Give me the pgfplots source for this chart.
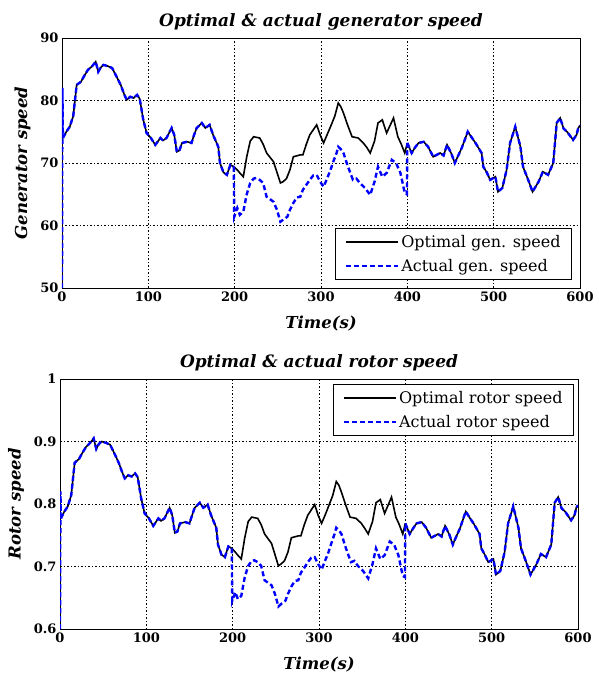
\documentclass[border=0pt]{standalone}
\usepackage{fontspec}
\setmainfont{DejaVu Serif}
\usepackage{pgfplots}
\usepackage{pgfplotstable}
\pgfplotsset{compat=1.18}

% generator speed, shared part (optimal = actual) 0..199 s
\pgfplotstableread{
t v
1 74
5 75
9 75.8
13 77.5
17 82.5
22 83
26 84
30 84.9
35 85.5
39 86.2
42 84.6
45 85.3
48 85.7
53 85.5
58 85.2
64 83.6
68 82.5
72 81
75 80.1
79 80.6
83 80.4
87 80.9
90 80.3
94 77
98 74.8
103 74
108 72.9
114 74
117 73.6
121 74
127 75.6
130 74.5
133 71.8
136 72
139 73.2
145 73.4
150 73.2
153 74.5
156 75.6
162 76.4
166 75.6
171 76.1
175 74.5
181 72.6
183 70
187 68.5
191 68.1
195 69.7
199 69.4
}\genA
% optimal generator speed 199..400 s
\pgfplotstableread{
t v
199 69.4
203 68.9
206 68.4
210 67.8
214 71
218 73.5
222 74.2
229 74
233 73
237 71.6
245 70.2
249 68.5
253 66.8
256 67
260 67.5
264 68.9
268 71
276 71.3
279 71.3
283 73
287 74.5
295 76.1
299 74.5
303 73.2
307 74.5
311 75.8
316 77.5
320 79.6
323 79
326 78
331 76
336 74.2
343 74
349 73.2
353 72.5
357 71.6
362 73.5
366 76.4
371 76.9
376 74.8
380 76
384 77.2
389 74.2
393 73
397 71.6
400 73.2
}\genOpt
% actual generator speed 199..400 s
\pgfplotstableread{
t v
199 69.4
199.5 61.4
203 62.8
206 61.7
210 62.2
214 65
218 66.8
222 67.5
225 67.6
229 67.3
233 66.8
237 64.6
241 64.2
245 63.8
249 62.5
253 60.6
257 61
261 61.4
264 62.5
268 63.6
272 64.5
276 64.6
279 65.7
283 66.5
287 67.3
291 68
295 68.1
299 67
303 66.2
307 67.5
311 68.9
315 70.5
318 71.6
320 72.6
323 72.2
326 71.6
331 69.5
337 67.3
341 67.5
345 66.8
351 66
357 64.9
362 67
366 69.4
371 67.8
376 68.4
382 70.5
387 70
392 68.4
397 65.2
399.5 65
400 73.2
}\genAct
% generator speed, shared part 400..600 s
\pgfplotstableread{
t v
400 73.2
405 71.6
409 72.5
413 73.2
419 73.4
424 72.6
430 71
434 71.3
438 71.6
442 71.2
446 72.9
451 71.5
455 70
459 71.2
463 72.4
470 75
475 74
479 73.2
486 71.6
488 69.4
492 68.5
496 67.3
502 67.8
505 65.4
510 66
515 68.9
519 73.2
525 75.8
531 72.6
534 69.4
540 67.3
545 65.4
552 67
557 68.6
563 68.1
569 70
573 76.4
577 77.2
581 75.5
585 75
592 73.7
596 74.5
598 75.6
600 76
}\genB

% rotor speed, shared part 0..199 s
\pgfplotstableread{
t v
1 0.777
5 0.788
9 0.796
13 0.814
17 0.866
22 0.872
26 0.882
30 0.891
35 0.898
39 0.905
42 0.888
45 0.896
48 0.900
53 0.898
58 0.895
64 0.878
68 0.866
72 0.851
75 0.841
79 0.846
83 0.844
87 0.849
90 0.843
94 0.809
98 0.785
103 0.777
108 0.765
114 0.777
117 0.773
121 0.777
127 0.794
130 0.782
133 0.754
136 0.756
139 0.769
145 0.771
150 0.769
153 0.782
156 0.794
162 0.802
166 0.794
171 0.799
175 0.782
181 0.762
183 0.735
187 0.719
191 0.715
195 0.732
199 0.729
}\rotA
% optimal rotor speed 199..400 s
\pgfplotstableread{
t v
199 0.729
203 0.723
206 0.718
210 0.712
214 0.746
218 0.772
222 0.779
229 0.777
233 0.767
237 0.752
245 0.737
249 0.719
253 0.701
256 0.704
260 0.709
264 0.723
268 0.746
276 0.749
279 0.749
283 0.767
287 0.782
295 0.799
299 0.782
303 0.769
307 0.782
311 0.796
316 0.814
320 0.836
323 0.830
326 0.819
331 0.798
336 0.779
343 0.777
349 0.769
353 0.761
357 0.752
362 0.772
366 0.802
371 0.807
376 0.785
380 0.798
384 0.811
389 0.779
393 0.767
397 0.752
400 0.769
}\rotOpt
% actual rotor speed 199..400 s
\pgfplotstableread{
t v
199 0.729
199.5 0.645
203 0.659
206 0.648
210 0.653
214 0.683
218 0.701
222 0.709
225 0.710
229 0.707
233 0.701
237 0.678
241 0.674
245 0.670
249 0.656
253 0.636
257 0.641
261 0.645
264 0.656
268 0.668
272 0.677
276 0.678
279 0.690
283 0.698
287 0.707
291 0.714
295 0.715
299 0.704
303 0.695
307 0.709
311 0.723
315 0.740
318 0.752
320 0.762
323 0.758
326 0.752
331 0.730
337 0.707
341 0.709
345 0.701
351 0.693
357 0.681
362 0.704
366 0.729
371 0.712
376 0.718
382 0.740
387 0.735
392 0.718
397 0.685
399.5 0.683
400 0.769
}\rotAct
% rotor speed, shared part 400..600 s
\pgfplotstableread{
t v
400 0.769
405 0.752
409 0.761
413 0.769
419 0.771
424 0.762
430 0.746
434 0.749
438 0.752
442 0.748
446 0.765
451 0.751
455 0.735
459 0.748
463 0.760
470 0.788
475 0.777
479 0.769
486 0.752
488 0.729
492 0.719
496 0.707
502 0.712
505 0.687
510 0.693
515 0.723
519 0.769
525 0.796
531 0.762
534 0.729
540 0.707
545 0.687
552 0.704
557 0.720
563 0.715
569 0.735
573 0.802
577 0.811
581 0.793
585 0.788
592 0.774
596 0.782
598 0.794
600 0.798
}\rotB

\pgfplotsset{
  speedax/.style={
    scale only axis, width=518pt, height=250pt,
    xmin=0, xmax=600, xtick={0,100,...,600},
    grid=major, grid style={black, dash pattern=on 1.5pt off 2pt, line width=0.5pt},
    axis line style={black, line width=0.8pt},
    tick style={draw=none},
    /pgf/number format/assume math mode=true,
    tick label style={font=\fontsize{13}{15}\selectfont\bfseries},
    title style={font=\fontsize{17}{20}\selectfont\bfseries\itshape, yshift=-2pt},
    label style={font=\fontsize{16.5}{19}\selectfont\bfseries\itshape},
    xlabel style={yshift=-8pt},
    ylabel style={yshift=3pt},
    legend style={draw=black, line width=0.8pt, font=\fontsize{16}{19}\selectfont,
      cells={anchor=west}, row sep=6pt, inner xsep=9pt, inner ysep=5pt},
    legend image code/.code={\draw[##1] (0pt,0pt) -- (52pt,0pt);},
  },
  optline/.style={black, line width=1.6pt},
  actline/.style={blue, line width=2.4pt, dash pattern=on 5pt off 3pt},
}

\begin{document}
\begin{tikzpicture}
\path[use as bounding box] (-62pt,-394pt) rectangle (537pt,288pt);
\begin{axis}[speedax,
  ymin=50, ymax=90, ytick={50,60,...,90},
  title={Optimal \& actual generator speed},
  xlabel={Time(s)}, ylabel={Generator speed},
  legend style={at={(rel axis cs:1,0)}, anchor=south east, xshift=-8pt, yshift=8pt},
]
\addplot[optline] table {\genA};
\addlegendentry{Optimal gen. speed}
\addplot[optline, forget plot] table {\genOpt};
\addplot[optline, forget plot] table {\genB};
\addplot[actline] table {\genA};
\addlegendentry{Actual gen. speed}
\addplot[actline, forget plot] coordinates {(0,50) (0.5,82) (1,74)};
\addplot[actline, forget plot] table {\genAct};
\addplot[actline, forget plot] table {\genB};
\end{axis}

\begin{axis}[speedax, at={(-2pt,-341pt)},
  ymin=0.6, ymax=1, ytick={0.6,0.7,...,1.0},
  yticklabel style={/pgf/number format/.cd, fixed, precision=1},
  title={Optimal \& actual rotor speed},
  xlabel={Time(s)}, ylabel={Rotor speed},
  legend style={at={(rel axis cs:1,1)}, anchor=north east, xshift=-4pt, yshift=-5pt},
]
\addplot[optline] table {\rotA};
\addlegendentry{Optimal rotor speed}
\addplot[optline, forget plot] table {\rotOpt};
\addplot[optline, forget plot] table {\rotB};
\addplot[actline] table {\rotA};
\addlegendentry{Actual rotor speed}
\addplot[actline, forget plot] coordinates {(0,0.6) (0.5,0.82) (1,0.777)};
\addplot[actline, forget plot] table {\rotAct};
\addplot[actline, forget plot] table {\rotB};
\end{axis}
\end{tikzpicture}
\end{document}
